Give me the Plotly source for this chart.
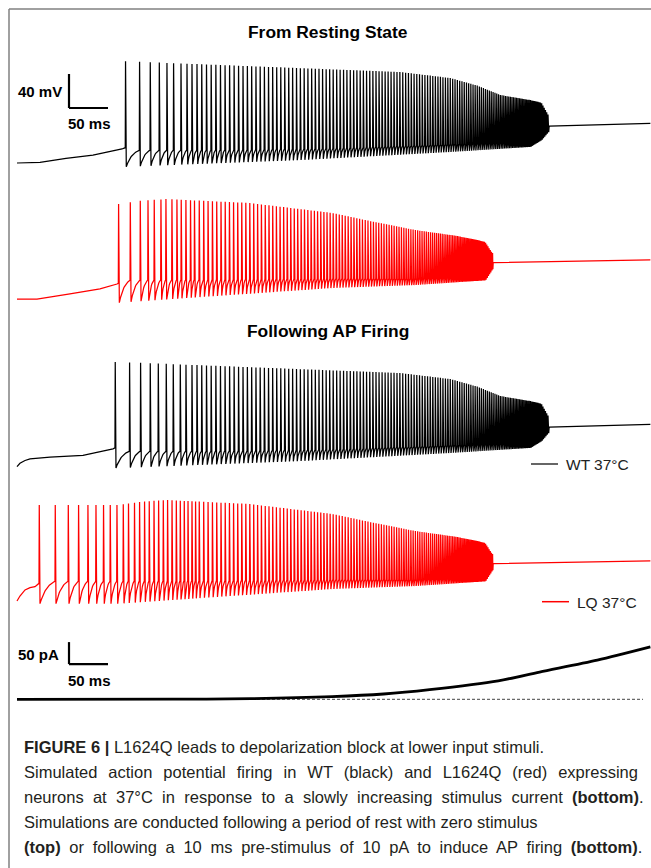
import numpy as np
import plotly.graph_objects as go

# ---------------- data (time in ms, membrane potential in mV, current in pA) ----------------
# pre-spike baselines
WT_REST_PRE_T = [0, 29.5, 62.8, 97.4, 134.6, 138.8]
WT_REST_PRE_V = [-70, -69.2, -64.5, -60.6, -53.5, -52.0]
LQ_REST_PRE_T = [0, 25.6, 67.9, 106.4, 128.2, 129.9]
LQ_REST_PRE_V = [-70, -70, -64.1, -58.2, -52.4, -51.5]
WT_AP_PRE_T = [0, 3.8, 10.3, 16.7, 42.3, 84.6, 123.1, 125.6]
WT_AP_PRE_V = [-73.2, -69.1, -65.9, -63.9, -61.9, -59.9, -52.1, -51.0]
LQ_AP_PRE_T = [0, 3.8, 10.3, 16.7, 23.1, 28.2]
LQ_AP_PRE_V = [-71.2, -65.3, -58.2, -55.5, -54.3, -50.4]

# spike times: onset part (differs by protocol) + common tail
WT_REST_ONSET = [138.8, 156.8, 170.5, 182.1, 191.9, 200.4, 209.9, 217.6, 224.0, 230.4]
WT_AP_ONSET = [125.6, 144.0, 158.1, 170.5, 180.8, 191.0, 200.0, 209.0, 216.3, 224.0, 230.4]
WT_TAIL = [236.5, 242.6, 248.6, 254.6, 260.5, 266.4, 272.2, 278.0, 283.7, 289.4,
           295.0, 300.5, 306.0, 311.4, 316.8, 322.1, 327.4, 332.6, 337.8, 342.9,
           348.0, 353.0, 358.0, 362.9, 367.8, 372.6, 377.4, 382.1, 386.8, 391.4,
           396.0, 400.5, 405.0, 409.5, 413.9, 418.3, 422.6, 426.9, 431.2, 435.4,
           439.6, 443.7, 447.8, 451.9, 455.9, 459.9, 463.8, 467.7, 471.6, 475.4,
           479.2, 483.0, 486.8, 490.5, 494.2, 497.9, 501.5, 505.1, 508.7, 512.2,
           515.7, 519.2, 522.6, 526.0, 529.4, 532.7, 536.0, 539.3, 542.5, 545.7,
           548.9, 552.0, 555.1, 558.2, 561.2, 564.2, 567.2, 570.1, 573.0, 575.9,
           578.7, 581.5, 584.3, 587.0, 589.7, 592.4, 595.0, 597.6, 600.2, 602.7,
           605.2, 607.6, 610.0, 612.4, 614.7, 617.0, 619.3, 621.5, 623.7, 625.9,
           628.0, 630.1, 632.2, 634.2, 636.2, 638.2, 640.1, 642.0, 643.9, 645.7,
           647.5, 649.3, 651.1, 652.8, 654.5, 656.2, 657.9, 659.6, 661.2, 662.8,
           664.4, 666.0, 667.6, 669.2, 670.8, 672.4, 674.0, 675.6, 677.2, 678.8,
           680.4]
LQ_REST_ONSET = [129.9, 144.9, 157.7, 167.6, 175.6, 184.2, 190.6, 198.3, 204.7, 210.2,
                 216.2, 222.1, 227.2, 233.3]
LQ_AP_ONSET = [28.2, 48.7, 65.4, 78.6, 90.6, 100.9, 110.6, 119.2, 127.8, 135.9,
               142.6, 150.3, 156.8, 163.2, 169.2, 175.3, 181.2, 187.2, 192.7, 198.4,
               203.9, 209.0, 214.1, 218.9, 224.0, 228.6, 233.3]
LQ_TAIL = [239.0, 244.6, 250.2, 255.7, 261.2, 266.6, 272.0, 277.3, 282.6, 287.8,
           293.0, 298.1, 303.1, 308.1, 313.0, 317.9, 322.7, 327.5, 332.2, 336.9,
           341.5, 346.1, 350.6, 355.1, 359.5, 363.9, 368.2, 372.5, 376.7, 380.9,
           385.0, 389.1, 393.1, 397.1, 401.1, 405.0, 408.9, 412.8, 416.6, 420.4,
           424.2, 427.9, 431.6, 435.3, 438.9, 442.5, 446.1, 449.6, 453.1, 456.6,
           460.0, 463.4, 466.8, 470.1, 473.4, 476.7, 479.9, 483.1, 486.3, 489.4,
           492.5, 495.6, 498.6, 501.6, 504.6, 507.5, 510.4, 513.3, 516.1, 518.9,
           521.7, 524.4, 527.1, 529.8, 532.4, 535.0, 537.5, 540.0, 542.4, 544.8,
           547.1, 549.4, 551.6, 553.8, 556.0, 558.1, 560.2, 562.2, 564.2, 566.1,
           568.0, 569.9, 571.7, 573.5, 575.3, 577.0, 578.7, 580.4, 582.1, 583.7,
           585.3, 586.9, 588.5, 590.0, 591.5, 593.0, 594.5, 596.0, 597.5, 599.0,
           600.5, 602.0, 603.5, 605.0, 606.5, 608.0, 609.5]

# spike peak / trough / threshold envelopes
WT_PEAK_T = [130, 324, 491, 555, 590, 619, 658, 672, 681]
WT_PEAK_V = [50, 43, 37, 30, 21, 10, 4, 1, -14]
WT_TROUGH_T = [130, 363, 555, 658, 672, 681]
WT_TROUGH_V = [-74.7, -66.5, -57, -51, -43, -33]
WT_THR_T = [130, 250, 400, 555, 660, 682]
WT_THR_V = [-55, -55, -53, -48, -44, -30]
LQ_PEAK_T = [130, 158, 191, 297, 404, 458, 510, 564, 590, 600, 609]
LQ_PEAK_V = [41.8, 45.6, 47.6, 43, 31.2, 20.6, 11.2, 4.1, -0.6, -3, -16]
LQ_TROUGH_T = [130, 404, 510, 600, 609]
LQ_TROUGH_V = [-74.3, -57, -53.5, -48, -35]
LQ_THR_T = [28, 130, 404, 510, 600, 611]
LQ_THR_V = [-48, -48, -46, -46, -42, -30]

# depolarization block plateau
WT_BLOCK_T = [682.5, 812]
WT_BLOCK_V = [-26.5, -23.5]
LQ_BLOCK_T = [610.5, 812]
LQ_BLOCK_V = [-27.3, -24.1]

# stimulus current
I_T = [0, 200, 300, 404, 470, 529, 617, 670, 744, 812]
I_V = [0, 0.3, 1.5, 6, 12, 22, 42, 62, 89, 119]

# ---------------- build voltage traces ----------------
def build(pre_t, pre_v, spikes, pk_t, pk_v, tr_t, tr_v, th_t, th_v, blk_t, blk_v):
    T = list(pre_t)
    V = list(pre_v)
    n = len(spikes)
    for i, ts in enumerate(spikes):
        pk = float(np.interp(ts, pk_t, pk_v))
        tr = float(np.interp(ts, tr_t, tr_v))
        if i + 1 < n:
            nxt = spikes[i + 1]
            th = float(np.interp(nxt, th_t, th_v))
        else:
            nxt = blk_t[0]
            th = blk_v[0]
        isi = nxt - ts
        rise = min(0.35, 0.2 * isi)
        fall = min(1.3, 0.6 * isi)
        T += [ts + rise, ts + fall]
        V += [pk, tr]
        rec = isi - fall
        k = max(2, int(rec / 0.8))
        for j in range(1, k + 1):
            u = j / k
            frac = (1 - np.exp(-2.0 * u)) / (1 - np.exp(-2.0))
            T.append(ts + fall + rec * u)
            V.append(tr + (th - tr) * frac)
    T += list(blk_t)
    V += list(blk_v)
    return T, V

W, H = 651, 868
PXMS = 0.78          # px per ms (50 ms = 39 px)
PXMV = 0.85          # px per mV (40 mV = 34 px)
PXPA = 0.44          # px per pA (50 pA = 22 px)
X0PX = 17            # pixel of t = 0


def py(p):
    return 1 - p / H


def px(p):
    return p / W


def vaxis(ref_px, top, bot, ref_val, scale):
    vmax = ref_val + (ref_px - top) / scale
    vmin = ref_val - (bot - ref_px) / scale
    return dict(domain=[py(bot), py(top)], range=[vmin, vmax], visible=False,
                fixedrange=True, anchor="x")


fig = go.Figure()

panels = [
    ("y", WT_REST_PRE_T, WT_REST_PRE_V, WT_REST_ONSET + WT_TAIL, "WT", "#000000"),
    ("y2", LQ_REST_PRE_T, LQ_REST_PRE_V, LQ_REST_ONSET + LQ_TAIL, "LQ", "#ff0000"),
    ("y3", WT_AP_PRE_T, WT_AP_PRE_V, WT_AP_ONSET + WT_TAIL, "WT", "#000000"),
    ("y4", LQ_AP_PRE_T, LQ_AP_PRE_V, LQ_AP_ONSET + LQ_TAIL, "LQ", "#ff0000"),
]
for yref, pt, pv, sp, kind, col in panels:
    if kind == "WT":
        T, V = build(pt, pv, sp, WT_PEAK_T, WT_PEAK_V, WT_TROUGH_T, WT_TROUGH_V,
                     WT_THR_T, WT_THR_V, WT_BLOCK_T, WT_BLOCK_V)
    else:
        T, V = build(pt, pv, sp, LQ_PEAK_T, LQ_PEAK_V, LQ_TROUGH_T, LQ_TROUGH_V,
                     LQ_THR_T, LQ_THR_V, LQ_BLOCK_T, LQ_BLOCK_V)
    fig.add_trace(go.Scatter(x=T, y=V, mode="lines", xaxis="x", yaxis=yref,
                             line=dict(color=col, width=1.25), showlegend=False,
                             hoverinfo="skip"))

# zero-current reference and stimulus
fig.add_trace(go.Scatter(x=[0, 802.6], y=[0, 0], mode="lines", xaxis="x", yaxis="y5",
                         line=dict(color="#444", width=1, dash="3px,2px"),
                         showlegend=False, hoverinfo="skip"))
fig.add_trace(go.Scatter(x=I_T, y=I_V, mode="lines", xaxis="x", yaxis="y5",
                         line=dict(color="#000", width=2.8, shape="spline", smoothing=0.8),
                         showlegend=False, hoverinfo="skip"))

xmin = -X0PX / PXMS
xmax = (W - X0PX) / PXMS

layout = dict(
    width=W, height=H, margin=dict(l=0, r=0, t=0, b=0),
    paper_bgcolor="white", plot_bgcolor="rgba(0,0,0,0)",
    xaxis=dict(domain=[0, 1], range=[xmin, xmax], visible=False, fixedrange=True),
    yaxis=vaxis(163, 40, 190, -70, PXMV),
    yaxis2=vaxis(299, 190, 320, -70, PXMV),
    yaxis3=vaxis(464, 345, 480, -70, PXMV),
    yaxis4=vaxis(600, 480, 625, -70, PXMV),
    yaxis5=vaxis(699.3, 630, 712, 0, PXPA),
    font=dict(family="Liberation Sans, Arial, sans-serif", color="#231f20"),
)
fig.update_layout(**layout)

# scale bars (data units)
sb_t = (69 - X0PX) / PXMS
shapes = [
    dict(type="line", xref="x", yref="y", x0=sb_t, x1=sb_t, y0=-5.3, y1=34.7,
         line=dict(color="#000", width=2.2)),
    dict(type="line", xref="x", yref="y", x0=sb_t, x1=sb_t + 50, y0=-5.3, y1=-5.3,
         line=dict(color="#000", width=2.2)),
    dict(type="line", xref="x", yref="y5", x0=sb_t, x1=sb_t, y0=80, y1=130,
         line=dict(color="#000", width=2.2)),
    dict(type="line", xref="x", yref="y5", x0=sb_t, x1=sb_t + 50, y0=80, y1=80,
         line=dict(color="#000", width=2.2)),
    # legend samples
    dict(type="line", xref="paper", yref="paper", x0=px(531), x1=px(558), y0=py(464), y1=py(464),
         line=dict(color="#333", width=1.5)),
    dict(type="line", xref="paper", yref="paper", x0=px(542), x1=px(569), y0=py(601.7), y1=py(601.7),
         line=dict(color="#ff0000", width=1.5)),
    # frame
    dict(type="line", xref="paper", yref="paper", x0=px(9), x1=px(9), y0=py(9), y1=0,
         line=dict(color="#808080", width=1.5)),
    dict(type="line", xref="paper", yref="paper", x0=px(9), x1=1, y0=py(9), y1=py(9),
         line=dict(color="#808080", width=1.5)),
]
fig.update_layout(shapes=shapes)

BOLD = "Liberation Sans, Arial, sans-serif"
ann = []


def text(x, y, s, size, anchor="center", color="#000", family=BOLD):
    ann.append(dict(x=px(x), y=py(y), xref="paper", yref="paper", text=s, showarrow=False,
                    xanchor=anchor, yanchor="middle", font=dict(size=size, color=color, family=family)))


text(328, 32, "<b>From Resting State</b>", 17.4)
text(328, 331, "<b>Following AP Firing</b>", 17.4)
text(39.5, 92, "<b>40 mV</b>", 15)
text(89, 124, "<b>50 ms</b>", 15)
text(38, 654, "<b>50 pA</b>", 15)
text(89, 680, "<b>50 ms</b>", 15)
text(564, 464, "WT 37°C", 15.5, anchor="left", color="#222")
text(575, 602, "LQ 37°C", 15.5, anchor="left", color="#222")

CAP = [
    "<b>FIGURE 6 |</b> L1624Q leads to depolarization block at lower input stimuli.",
    "Simulated action potential firing in WT (black) and L1624Q (red) expressing",
    "neurons at 37°C in response to a slowly increasing stimulus current <b>(bottom)</b>.",
    "Simulations are conducted following a period of rest with zero stimulus",
    "<b>(top)</b> or following a 10 ms pre-stimulus of 10 pA to induce AP firing <b>(bottom)</b>.",
]
CAP_WS = [0, 6.4, 4.7, 0, 4.1]
for i, line in enumerate(CAP):
    s = line if CAP_WS[i] == 0 else '<span style="word-spacing:%.1fpx">%s</span>' % (CAP_WS[i], line)
    text(22, 747 + 25 * i, s, 16.5, anchor="left", color="#231f20")

fig.update_layout(annotations=ann)

fig.write_html("out.html", config={"displayModeBar": False},
               post_script="document.body.style.margin='0';document.body.style.overflow='hidden';")
